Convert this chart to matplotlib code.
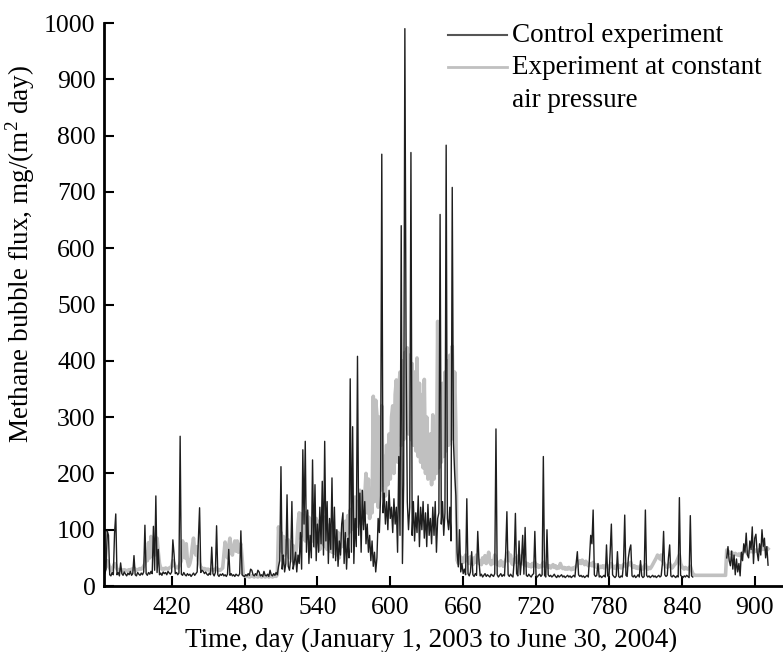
import numpy as np
import matplotlib
matplotlib.use("Agg")
import matplotlib.pyplot as plt

plt.rcParams['font.family'] = ['Liberation Serif', 'DejaVu Serif']
plt.rcParams['mathtext.fontset'] = 'custom'
plt.rcParams['mathtext.rm'] = 'Liberation Serif'

# first day of the series (day count from Jan 1, 2002)
start_day = 365

# control experiment, one value per day, rows of 10 days (row start day in comment)
control = [
    22, 30, 98, 90, 20, 18, 24, 20, 94, 128,        # 365
    20, 24, 18, 41, 22, 19, 25, 21, 18, 23,         # 375
    20, 26, 19, 22, 54, 20, 18, 24, 21, 19,         # 385
    23, 20, 25, 108, 22, 19, 24, 21, 26, 22,        # 395
    106, 28, 160, 24, 65, 20, 23, 19, 25, 22,       # 405
    24, 20, 26, 23, 21, 25, 82, 56, 22, 24,         # 415
    20, 23, 266, 21, 19, 24, 20, 18, 22, 19,        # 425
    21, 17, 20, 23, 19, 22, 25, 80, 139, 24,        # 435
    28, 26, 22, 25, 21, 19, 23, 20, 69, 22,         # 445
    18, 24, 107, 20, 17, 21, 19, 22, 18, 20,        # 455
    17, 21, 65, 19, 22, 18, 20, 17, 21, 19,         # 465
    18, 22, 98, 20, 18, 17, 20, 18, 22, 19,         # 475
    30, 28, 20, 18, 22, 19, 28, 25, 18, 20,         # 485
    17, 26, 19, 18, 21, 17, 28, 20, 18, 22,         # 495
    19, 24, 20, 35, 45, 212, 30, 55, 25, 40,        # 505
    162, 35, 28, 48, 150, 30, 42, 60, 25, 55,       # 515
    40, 95, 30, 242, 110, 257, 60, 135, 40, 90,     # 525
    50, 224, 70, 180, 45, 110, 60, 140, 75, 186,    # 535
    55, 257, 80, 150, 40, 120, 65, 192, 50, 140,    # 545
    45, 100, 35, 80, 55, 110, 130, 40, 95, 30,      # 555
    85, 50, 368, 60, 283, 40, 120, 70, 408, 90,     # 565
    165, 60, 170, 100, 150, 75, 110, 60, 90, 45,    # 575
    80, 35, 60, 25, 50, 120, 95, 160, 767, 130,     # 585
    165, 110, 150, 100, 170, 120, 140, 95, 155, 110,  # 595
    140, 60, 230, 90, 640, 40, 180, 990, 420, 150,  # 605
    100, 140, 770, 90, 150, 80, 130, 95, 160, 70,   # 615
    140, 100, 150, 85, 130, 70, 145, 90, 120, 75,   # 625
    140, 90, 150, 60, 120, 130, 660, 110, 150, 90,  # 635
    130, 783, 120, 100, 140, 80, 708, 255, 200, 160,  # 645
    60, 34, 100, 25, 40, 22, 30, 20, 155, 22,       # 655
    18, 25, 61, 20, 17, 22, 19, 97, 45, 18,         # 665
    21, 16, 19, 22, 17, 20, 18, 16, 21, 19,         # 675
    17, 22, 279, 20, 16, 19, 22, 17, 20, 18,        # 685
    60, 132, 20, 17, 21, 18, 16, 45, 129, 22,       # 695
    18, 80, 20, 45, 90, 21, 104, 19, 17, 21,        # 705
    18, 16, 20, 22, 97, 18, 16, 19, 21, 17,         # 715
    20, 230, 19, 16, 100, 20, 17, 19, 16, 18,       # 725
    21, 17, 15, 19, 16, 18, 20, 16, 18, 15,         # 735
    17, 19, 16, 18, 15, 17, 19, 16, 40, 61,         # 745
    20, 17, 19, 16, 18, 15, 17, 19, 16, 50,         # 755
    90, 75, 135, 20, 17, 19, 40, 16, 18, 15,        # 765
    17, 19, 16, 73, 18, 16, 60, 110, 20, 17,        # 775
    15, 18, 61, 17, 15, 18, 16, 40, 126, 19,        # 785
    17, 50, 65, 73, 18, 16, 19, 15, 17, 20,         # 795
    16, 45, 18, 15, 17, 135, 19, 16, 18, 15,        # 805
    17, 19, 16, 18, 15, 17, 19, 16, 18, 40,         # 815
    97, 20, 17, 19, 50, 73, 18, 16, 19, 17,         # 825
    15, 18, 16, 157, 19, 17, 15, 18, 16, 19,        # 835
    17, 15, 125, 18, 16, None, None, None, None, None,  # 845
    None, None, None, None, None, None, None, None, None, None,  # 855
    None, None, None, None, None, None, None, None, None, None,  # 865
    None, None, 50, 70, 45, 36, 62, 30, 55, 20,     # 875
    48, 25, 40, 18, 60, 45, 75, 60, 94, 55,         # 885
    50, 80, 65, 105, 40, 85, 92, 60, 45, 75,        # 895
    55, 100, 70, 85, 50, 70, 37,                    # 905
]

# experiment at constant air pressure
constant = [
    30, 35, 45, 40, 32, 28, 30, 35, 40, 38,         # 365
    30, 28, 27, 30, 28, 27, 29, 28, 27, 28,         # 375
    29, 28, 30, 29, 32, 30, 28, 29, 30, 31,         # 385
    30, 32, 35, 40, 60, 45, 77, 50, 88, 60,         # 395
    80, 55, 70, 85, 60, 40, 32, 30, 31, 30,         # 405
    32, 31, 30, 32, 33, 35, 45, 40, 34, 33,         # 415
    32, 35, 40, 45, 80, 55, 50, 75, 45, 35,         # 425
    40, 50, 70, 85, 60, 55, 70, 45, 40, 33,         # 435
    32, 30, 31, 30, 29, 30, 28, 29, 30, 28,         # 445
    29, 30, 32, 28, 29, 28, 30, 32, 55, 78,         # 455
    60, 50, 72, 85, 60, 55, 70, 80, 62, 80,         # 465
    60, 70, 75, 50, 20, 18, 17, 18, 17, 16,         # 475
    17, 18, 17, 16, 18, 17, 16, 18, 17, 16,         # 485
    17, 18, 16, 17, 18, 16, 17, 18, 16, 17,         # 495
    18, 17, 20, 105, 70, 95, 60, 88, 55, 80,        # 505
    60, 82, 50, 78, 45, 72, 40, 58, 70, 110,        # 515
    130, 85, 128, 90, 125, 80, 131, 85, 122, 75,    # 525
    118, 80, 112, 70, 120, 78, 115, 65, 110, 75,    # 535
    123, 70, 110, 65, 108, 62, 104, 60, 100, 58,    # 545
    98, 55, 95, 50, 92, 70, 110, 80, 115, 90,       # 555
    125, 95, 135, 100, 140, 110, 158, 105, 150, 120,  # 565
    170, 110, 165, 120, 160, 200, 130, 190, 120, 145,  # 575
    130, 337, 150, 330, 304, 140, 300, 170, 320, 180,  # 585
    230, 160, 250, 180, 270, 190, 300, 320, 200, 340,  # 595
    366, 220, 350, 380, 250, 400, 260, 415, 280, 423,  # 605
    270, 410, 260, 395, 250, 380, 240, 405, 230, 360,  # 615
    220, 340, 210, 367, 200, 300, 190, 224, 270, 180,  # 625
    304, 190, 280, 200, 470, 210, 320, 220, 360, 230,  # 635
    380, 240, 400, 250, 410, 260, 426, 290, 380, 280,  # 645
    46, 40, 55, 45, 50, 42, 48, 55, 45, 50,         # 655
    40, 52, 45, 38, 50, 42, 55, 48, 40, 45,         # 665
    38, 50, 42, 54, 40, 45, 60, 42, 38, 45,         # 675
    40, 55, 48, 38, 42, 36, 45, 40, 35, 42,         # 685
    45, 50, 60, 45, 55, 40, 38, 45, 50, 42,         # 695
    48, 55, 40, 50, 45, 38, 42, 36, 40, 35,         # 705
    38, 34, 40, 36, 42, 35, 38, 33, 36, 34,         # 715
    38, 42, 35, 40, 37, 33, 36, 32, 35, 38,         # 725
    33, 36, 31, 34, 32, 40, 34, 31, 33, 30,         # 735
    32, 30, 33, 31, 29, 32, 30, 33, 35, 38,         # 745
    42, 45, 40, 46, 42, 38, 44, 40, 36, 38,         # 755
    40, 36, 42, 35, 38, 33, 36, 32, 35, 33,         # 765
    36, 32, 35, 38, 34, 31, 36, 40, 34, 32,         # 775
    35, 31, 38, 33, 36, 32, 35, 38, 40, 34,         # 785
    36, 40, 38, 42, 35, 33, 36, 32, 34, 31,         # 795
    33, 36, 32, 30, 33, 38, 32, 30, 33, 31,         # 805
    34, 38, 42, 46, 50, 55, 52, 48, 55, 45,         # 815
    42, 38, 35, 33, 36, 40, 34, 32, 35, 38,         # 825
    40, 45, 50, 55, 40, 35, 32, 30, 33, 31,         # 835
    30, 32, 35, 28, 22, 20, 19, 19, 19, 19,         # 845
    19, 19, 19, 19, 19, 19, 19, 19, 19, 19,         # 855
    19, 19, 19, 19, 19, 19, 19, 19, 19, 19,         # 865
    19, 19, 64, 62, 60, 58, 60, 57, 55, 58,         # 875
    56, 55, 57, 54, 56, 58, 60, 62, 60, 58,         # 885
    60, 62, 61, 63, 60, 62, 64, 62, 63, 65,         # 895
    64, 66, 65, 67, 66, 68, 66,                     # 905
]

x_ticks = [420, 480, 540, 600, 660, 720, 780, 840, 900]
y_ticks = [0, 100, 200, 300, 400, 500, 600, 700, 800, 900, 1000]

control = np.array(control, dtype=float)
constant = np.array(constant, dtype=float)
days_control = start_day + np.arange(len(control))
days_constant = start_day + np.arange(len(constant))

fig = plt.figure(figsize=(7.83, 6.52), dpi=100)
ax = fig.add_axes([0.1328, 0.1012, 0.8672, 0.8635])

ax.plot(days_constant, constant, color='#c0c0c0', lw=2.6)
ax.plot(days_control, control, color='#1e1e1e', lw=1.0)

ax.set_xlim(364.3, 923.3)
ax.set_ylim(0, 1000)
ax.set_xticks(x_ticks)
ax.set_yticks(y_ticks)

for s in ['top', 'right']:
    ax.spines[s].set_visible(False)
for s in ['left', 'bottom']:
    ax.spines[s].set_linewidth(2)
ax.tick_params(direction='in', length=7, width=1.5, labelsize=18.5)
ax.tick_params(axis='x', pad=8)
ax.tick_params(axis='y', pad=6)

ax.set_xlabel("Time, day (January 1, 2003 to June 30, 2004)", fontsize=19.5)
ax.xaxis.set_label_coords(0.4816, -0.0746)
ax.set_ylabel("Methane bubble flux, mg/(m$^2$ day)", fontsize=19.5)
ax.yaxis.set_label_coords(-0.0987, 0.59)

# legend drawn by hand so the grey line sits on the first text line
ax.plot([0.507, 0.5935], [0.9787, 0.9787], transform=ax.transAxes,
        color='#555555', lw=1.5, clip_on=False)
ax.plot([0.507, 0.5935], [0.9218, 0.9218], transform=ax.transAxes,
        color='#c0c0c0', lw=2, clip_on=False)
ax.text(0.601, 0.9787, "Control experiment", transform=ax.transAxes,
        fontsize=19.5, va='center')
ax.text(0.601, 0.9218, "Experiment at constant", transform=ax.transAxes,
        fontsize=19.5, va='center')
ax.text(0.601, 0.8630, "air pressure", transform=ax.transAxes,
        fontsize=19.5, va='center')

fig.savefig("out.png", dpi=100)
